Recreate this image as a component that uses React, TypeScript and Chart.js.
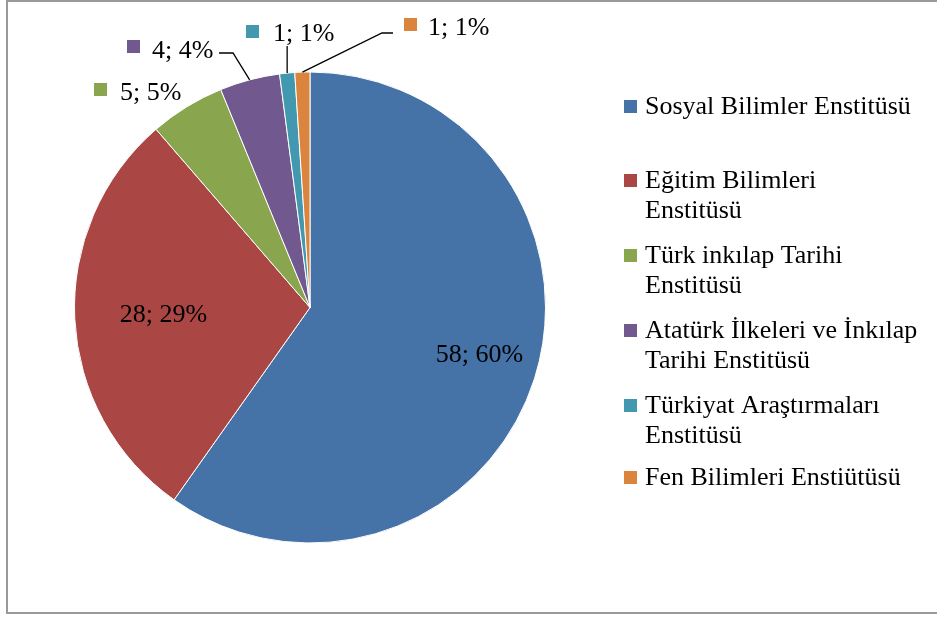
import React, { useEffect, useRef } from "react";
import { Chart, registerables } from "chart.js";

Chart.register(...registerables);

const categories = [
  "Sosyal Bilimler Enstitüsü",
  "Eğitim Bilimleri Enstitüsü",
  "Türk inkılap Tarihi Enstitüsü",
  "Atatürk İlkeleri ve İnkılap Tarihi Enstitüsü",
  "Türkiyat Araştırmaları Enstitüsü",
  "Fen Bilimleri Enstiütüsü",
];
const legendLines = [
  ["Sosyal Bilimler Enstitüsü"],
  ["Eğitim Bilimleri", "Enstitüsü"],
  ["Türk inkılap Tarihi", "Enstitüsü"],
  ["Atatürk İlkeleri ve İnkılap", "Tarihi Enstitüsü"],
  ["Türkiyat Araştırmaları", "Enstitüsü"],
  ["Fen Bilimleri Enstiütüsü"],
];
const counts = [58, 28, 5, 4, 1, 1];
const percents = [60, 29, 5, 4, 1, 1];
const colors = ["#4572A7", "#AA4643", "#89A54E", "#71588F", "#4198AF", "#DB843D"];

const FONT = "26px 'Liberation Serif', 'Times New Roman', serif";

const overlay = {
  id: "overlay",
  beforeDraw(chart: any) {
    const ctx = chart.ctx;
    ctx.save();
    ctx.fillStyle = "#ffffff";
    ctx.fillRect(0, 0, chart.width, chart.height);
    ctx.strokeStyle = "#9a9a9a";
    ctx.lineWidth = 2;
    ctx.beginPath();
    ctx.moveTo(chart.width + 5, 1);
    ctx.lineTo(7, 1);
    ctx.lineTo(7, 613);
    ctx.lineTo(chart.width + 5, 613);
    ctx.stroke();
    ctx.restore();
  },
  afterDraw(chart: any) {
    const ctx = chart.ctx;
    const meta = chart.getDatasetMeta(0);
    ctx.save();
    ctx.font = FONT;
    ctx.fillStyle = "#000";
    ctx.textBaseline = "alphabetic";

    const labelText = (i: number) => `${counts[i]}; ${percents[i]}%`;

    // inside labels: [radius fraction, baseline offset]
    const inside: [number, number][] = [
      [0.755, 1],
      [0.623, 7],
    ];
    inside.forEach(([frac, off], i) => {
      const a = meta.data[i];
      const mid = (a.startAngle + a.endAngle) / 2;
      const r = a.outerRadius * frac;
      ctx.textAlign = "center";
      ctx.fillText(labelText(i), a.x + Math.cos(mid) * r, a.y + Math.sin(mid) * r + off);
    });

    // outside labels: [square x, square top, text x, baseline]
    const outside: Record<number, [number, number, number, number]> = {
      2: [94, 83, 120, 100],
      3: [127, 40, 152, 58],
      4: [246, 25, 273, 41],
      5: [404, 18, 428, 35],
    };
    Object.keys(outside).forEach((k) => {
      const i = Number(k);
      const [sx, sy, tx, by] = outside[i];
      ctx.fillStyle = colors[i];
      ctx.fillRect(sx, sy, 13, 13);
      ctx.fillStyle = "#000";
      ctx.textAlign = "left";
      ctx.fillText(labelText(i), tx, by);
    });

    // leader lines
    const edge = (i: number) => {
      const a = meta.data[i];
      const mid = (a.startAngle + a.endAngle) / 2;
      return [a.x + Math.cos(mid) * a.outerRadius, a.y + Math.sin(mid) * a.outerRadius];
    };
    ctx.strokeStyle = "#000";
    ctx.lineWidth = 1.3;
    let p = edge(3);
    ctx.beginPath();
    ctx.moveTo(219, 53);
    ctx.lineTo(233, 53);
    ctx.lineTo(p[0], p[1]);
    ctx.stroke();
    p = edge(4);
    ctx.beginPath();
    ctx.moveTo(p[0], 46);
    ctx.lineTo(p[0], p[1]);
    ctx.stroke();
    p = edge(5);
    ctx.beginPath();
    ctx.moveTo(393, 33);
    ctx.lineTo(382, 33);
    ctx.lineTo(p[0], p[1]);
    ctx.stroke();

    // legend
    const legendBase = [114, 188, 263, 338, 413, 485];
    legendLines.forEach((lines, i) => {
      const y = legendBase[i];
      ctx.fillStyle = colors[i];
      ctx.fillRect(624, y - 14, 13, 13);
      ctx.fillStyle = "#000";
      ctx.textAlign = "left";
      lines.forEach((t, j) => ctx.fillText(t, 645, y + j * 30));
    });
    ctx.restore();
  },
};

export default function App() {
  const ref = useRef<HTMLCanvasElement>(null);
  useEffect(() => {
    const chart = new Chart(ref.current!, {
      type: "pie",
      data: {
        labels: categories,
        datasets: [
          {
            data: counts,
            backgroundColor: colors,
            borderColor: "#ffffff",
            borderWidth: 1,
          },
        ],
      },
      options: {
        animation: false,
        responsive: false,
        layout: { padding: { left: 74, top: 71, right: 391, bottom: 73 } },
        plugins: { legend: { display: false }, tooltip: { enabled: false } },
      },
      plugins: [overlay],
    });
    return () => chart.destroy();
  }, []);
  return (
    <div style={{ position: "fixed", left: 0, top: 0, width: 937, height: 617 }}>
      <canvas ref={ref} width={937} height={617} style={{ width: 937, height: 617 }} />
    </div>
  );
}
